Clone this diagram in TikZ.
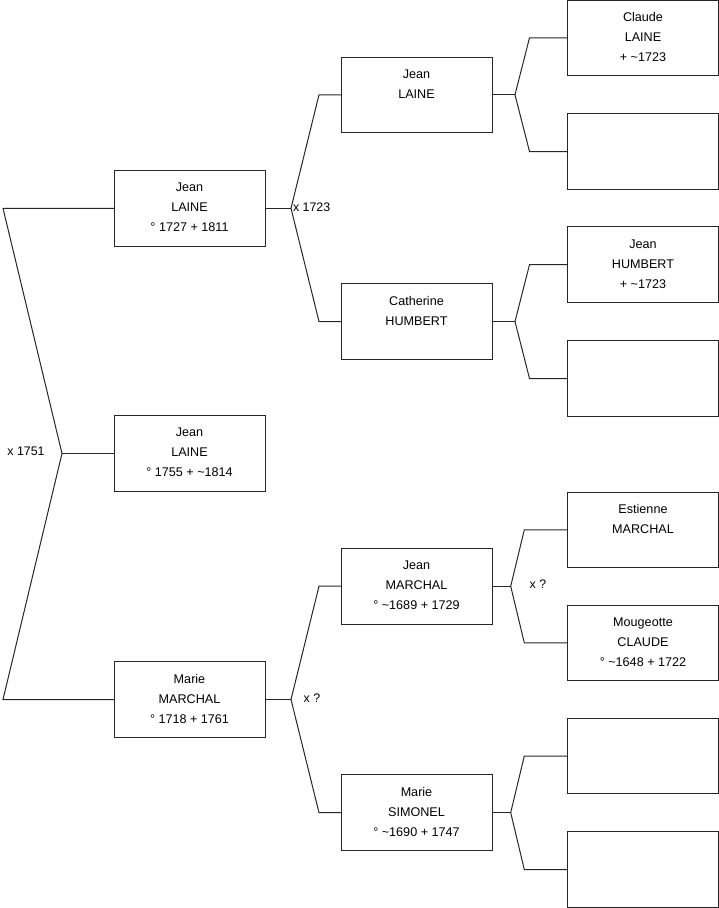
\documentclass[tikz,border=0pt]{standalone}
\usepackage{fontspec}
\setmainfont{Liberation Sans}
\begin{document}
\begin{tikzpicture}[x=1pt,y=-1pt,
  line width=1pt,
  box/.style={draw=black!85,line width=1pt,minimum width=151pt,minimum height=75.6pt,inner sep=0pt,outer sep=0pt},
  lbl/.style={anchor=north,inner sep=0pt,align=center,font=\fontsize{12.6}{20}\selectfont},
  marr/.style={inner sep=0pt,font=\fontsize{12.4}{14}\selectfont},
  conn/.style={draw=black!85,line width=1pt}]
\useasboundingbox (0,0) rectangle (719,908);
% column 1
\node[box] (p1) at (189.5,208.3) {};
\node[box] (p0) at (189.5,453.5) {};
\node[box] (p2) at (189.5,699.5) {};
% column 2
\node[box] (g1) at (416.5,94.8) {};
\node[box] (g2) at (416.5,321.5) {};
\node[box] (g3) at (416.5,586.2) {};
\node[box] (g4) at (416.5,812.6) {};
% column 3
\node[box] (a1) at (643,37.8) {};
\node[box] (a2) at (643,151.5) {};
\node[box] (a3) at (643,264.7) {};
\node[box] (a4) at (643,378.5) {};
\node[box] (a5) at (643,529.8) {};
\node[box] (a6) at (643,642.9) {};
\node[box] (a7) at (643,756) {};
\node[box] (a8) at (643,869.5) {};
% texts
\node[lbl] (tp1) at ([yshift=-12pt]p1.north) {Jean\\LAINE\\° 1727 + 1811};
\node[lbl] (tp0) at ([yshift=-12pt]p0.north) {Jean\\LAINE\\° 1755 + \textasciitilde1814};
\node[lbl] (tp2) at ([yshift=-12pt]p2.north) {Marie\\MARCHAL\\° 1718 + 1761};
\node[lbl] (tg1) at ([yshift=-12pt]g1.north) {Jean\\LAINE};
\node[lbl] (tg2) at ([yshift=-12pt]g2.north) {Catherine\\HUMBERT};
\node[lbl] (tg3) at ([yshift=-12pt]g3.north) {Jean\\MARCHAL\\° \textasciitilde1689 + 1729};
\node[lbl] (tg4) at ([yshift=-12pt]g4.north) {Marie\\SIMONEL\\° \textasciitilde1690 + 1747};
\node[lbl] (ta1) at ([yshift=-12pt]a1.north) {Claude\\LAINE\\+ \textasciitilde1723};
\node[lbl] (ta3) at ([yshift=-12pt]a3.north) {Jean\\HUMBERT\\+ \textasciitilde1723};
\node[lbl] (ta5) at ([yshift=-12pt]a5.north) {Estienne\\MARCHAL};
\node[lbl] (ta6) at ([yshift=-12pt]a6.north) {Mougeotte\\CLAUDE\\° \textasciitilde1648 + 1722};
% junctions and elbows
\coordinate (jA) at (62,453.5);
\coordinate (eA1) at (3,208.3);
\coordinate (eA2) at (3,699.5);
\coordinate (jB) at (291,208.3);
\coordinate (eB1) at (319,94.8);
\coordinate (eB2) at (319,321.5);
\coordinate (jC) at (291,699.5);
\coordinate (eC1) at (319,586.2);
\coordinate (eC2) at (319,812.6);
\coordinate (jD) at (515,94.8);
\coordinate (eD1) at (529.5,37.8);
\coordinate (eD2) at (529.5,151.5);
\coordinate (jE) at (515,321.5);
\coordinate (eE1) at (529.5,264.7);
\coordinate (eE2) at (529.5,378.5);
\coordinate (jF) at (510.7,586.2);
\coordinate (eF1) at (524.3,529.8);
\coordinate (eF2) at (524.3,642.9);
\coordinate (jG) at (510.7,812.6);
\coordinate (eG1) at (524.3,756);
\coordinate (eG2) at (524.3,869.5);
% connectors
\draw[conn] (p1.west) -- (eA1) -- (jA) -- (eA2) -- (p2.west);
\draw[conn] (jA) -- (p0.west);
\draw[conn] (p1.east) -- (jB);
\draw[conn] (g1.west) -- (eB1) -- (jB) -- (eB2) -- (g2.west);
\draw[conn] (p2.east) -- (jC);
\draw[conn] (g3.west) -- (eC1) -- (jC) -- (eC2) -- (g4.west);
\draw[conn] (g1.east) -- (jD);
\draw[conn] (a1.west) -- (eD1) -- (jD) -- (eD2) -- (a2.west);
\draw[conn] (g2.east) -- (jE);
\draw[conn] (a3.west) -- (eE1) -- (jE) -- (eE2) -- (a4.west);
\draw[conn] (g3.east) -- (jF);
\draw[conn] (a5.west) -- (eF1) -- (jF) -- (eF2) -- (a6.west);
\draw[conn] (g4.east) -- (jG);
\draw[conn] (a7.west) -- (eG1) -- (jG) -- (eG2) -- (a8.west);
% marriage labels
\node[marr] (mA) at (26,451.5) {x 1751};
\node[marr,anchor=west] (mB) at (292.5,207.5) {x 1723};
\node[marr] (mC) at (312,698) {x ?};
\node[marr] (mF) at (538,584) {x ?};
\end{tikzpicture}
\end{document}
